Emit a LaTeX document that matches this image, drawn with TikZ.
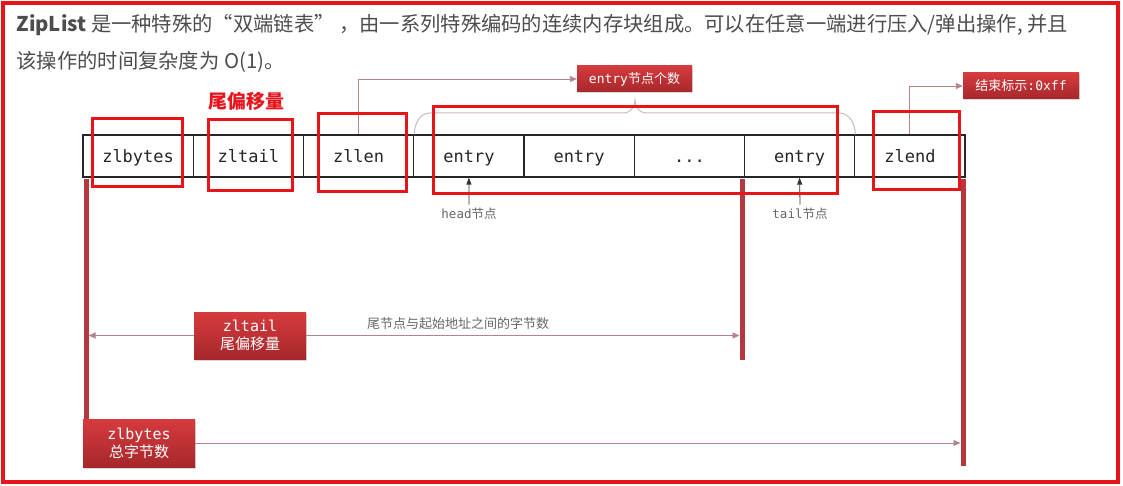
\documentclass[tikz,border=0pt]{standalone}
\usepackage{fontspec}
\setmainfont{Noto Sans CJK SC}
\setmonofont{DejaVu Sans Mono}
\usetikzlibrary{positioning,shadows,arrows.meta}
\definecolor{annot}{HTML}{E8141C}
\definecolor{headgray}{HTML}{4D4D4D}
\definecolor{tagtop}{HTML}{D63B3E}
\definecolor{tagbot}{HTML}{A6272B}
\definecolor{barred}{HTML}{B3393E}
\definecolor{linkcol}{HTML}{B3848A}
\definecolor{bracecol}{HTML}{CDB9BB}
\begin{document}
\begin{tikzpicture}[x=1pt,y=-1pt,
  cell/.style={draw=black!85,line width=1.2pt,minimum width=110.25pt,minimum height=42pt,
    inner sep=0pt,text height=14pt,text depth=1.5pt,text=black!85,font=\ttfamily\fontsize{17}{17}\selectfont},
  hilite/.style={draw=annot,line width=3pt},
  tag/.style={top color=tagtop,bottom color=tagbot,text=white,inner sep=0pt,
    drop shadow={opacity=0.3,shadow xshift=1pt,shadow yshift=-1.5pt}},
  redbar/.style={draw=barred,line width=5pt},
  link/.style={draw=linkcol,line width=0.9pt,-{Triangle[length=7pt,width=6pt]},linkcol},
  small/.style={text=black!60,font=\fontsize{12.5}{12.5}\selectfont}]
\fill[white] (0,0) rectangle (1123,486);
\useasboundingbox (0,0) rectangle (1123,486);
% intro text
\node[anchor=west,text=headgray,font=\fontsize{20.3}{21}\selectfont] (introA) at (13,25)
  {\textbf{ZipList} 是一种特殊的“双端链表” ，由一系列特殊编码的连续内存块组成。可以在任意一端进行压入/弹出操作, 并且};
\node[anchor=west,text=headgray,font=\fontsize{20.3}{21}\selectfont] (introB) at (13,62)
  {该操作的时间复杂度为 O(1)。};
\node[text=annot,font=\bfseries\fontsize{19}{19}\selectfont] (offlbl) at (246,101) {尾偏移量};
% the list
\node[cell] (zlbytes) at (138.1,156) {zlbytes};
\node[cell] (zltail) at (248.4,156) {zltail};
\node[cell] (zllen) at (358.6,156) {zllen};
\node[cell] (entryA) at (468.9,156) {entry};
\node[cell] (entryB) at (579.1,156) {entry};
\node[cell] (dots) at (689.4,156) {...};
\node[cell] (entryC) at (799.6,156) {entry};
\node[cell] (zlend) at (909.9,156) {zlend};
% tags
\node[tag,minimum width=115pt,minimum height=26pt,font=\fontsize{13}{13}\selectfont] (cnt) at (634.5,79) {\texttt{entry}节点个数};
\node[tag,minimum width=116pt,minimum height=26pt,font=\fontsize{13}{13}\selectfont] (endtag) at (1021,86) {结束标示\texttt{:0xff}};
\draw[bracecol,line width=1pt] (zllen.north east) to[out=90,in=180] (430,113) -- (624,113)
  to[out=0,in=-90] (635,100) to[out=-90,in=180] (646,113) -- (839,113)
  to[out=0,in=90] (entryC.north east);
\draw[link] (zllen.north) |- (cnt.west);
\draw[link] (zlend.north) |- (endtag.west);
% head / tail
\node[small] (headlbl) at (469,214) {\texttt{head}节点};
\node[small] (taillbl) at (800,214) {\texttt{tail}节点};
\draw[-{Triangle[length=7pt,width=5pt]},black!80,line width=0.8pt] (headlbl.north) -- (entryA.south);
\draw[-{Triangle[length=7pt,width=5pt]},black!80,line width=0.8pt] (taillbl.north) -- (entryC.south);
% bars
\coordinate (lbar) at (86,179);
\coordinate (mbar) at (742,179);
\coordinate (rbar) at (963,179);
\draw[redbar] (lbar) -- ++(0,262);
\draw[redbar] (mbar) -- ++(0,181);
\draw[redbar] (rbar) -- ++(0,287);
\node[tag,minimum width=112pt,minimum height=47pt,align=center,font=\fontsize{15}{18}\selectfont] (tailtag) at (250,335.5) {\texttt{zltail}\\尾偏移量};
\node[tag,minimum width=112pt,minimum height=48pt,align=center,font=\fontsize{15}{18}\selectfont] (bytestag) at (139,443) {\texttt{zlbytes}\\总字节数};
\draw[link,shorten >=2.5pt] (tailtag.west) -- (tailtag.west -| lbar);
\draw[link,shorten >=2.5pt] (tailtag.east) -- (tailtag.east -| mbar);
\draw[link,shorten >=2.5pt] (bytestag.east) -- (bytestag.east -| rbar);
\node[small,font=\fontsize{13}{13}\selectfont] (taildist) at (458,324) {尾节点与起始地址之间的字节数};
% red marks
\draw[hilite] (92,119) rectangle (182,187);
\draw[hilite] (208,120) rectangle (292,191);
\draw[hilite] (318,114) rectangle (406,192);
\draw[hilite] (433,107) rectangle (837,194);
\draw[hilite] (873,112) rectangle (959,190);
\draw[annot,line width=4pt] (3,3) rectangle (1118,482);
\end{tikzpicture}
\end{document}
